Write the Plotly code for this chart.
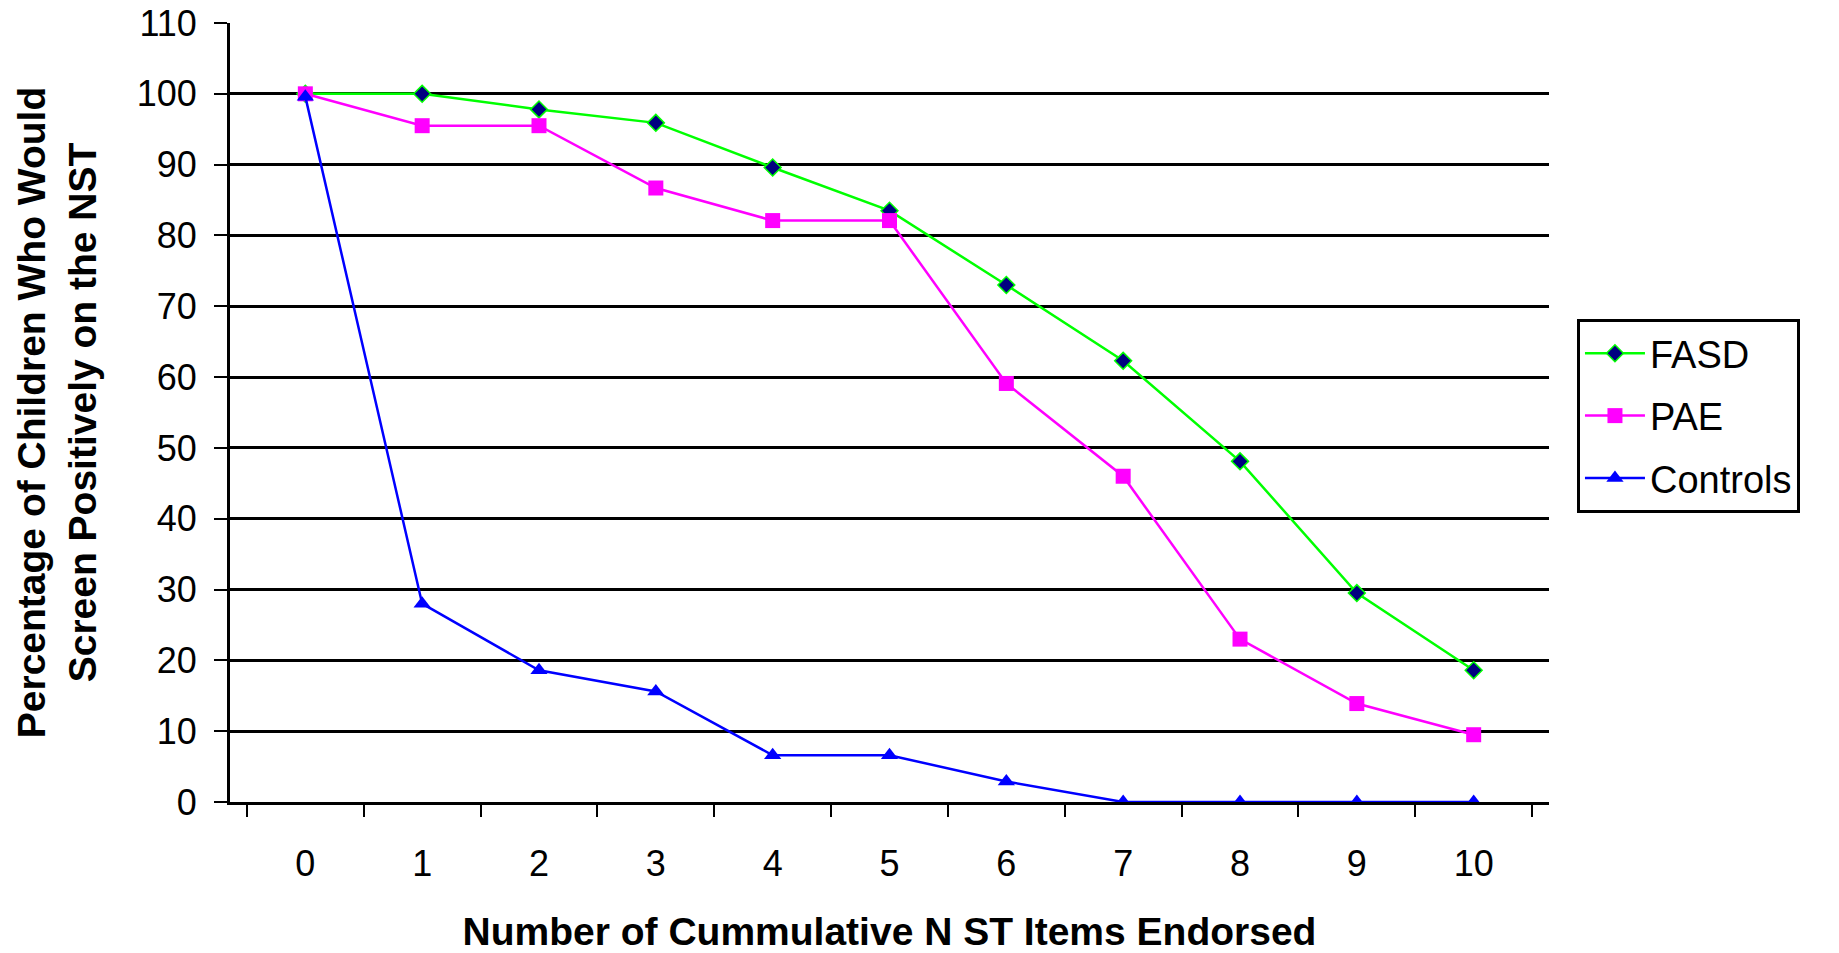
import plotly.graph_objects as go

categories = ["0", "1", "2", "3", "4", "5", "6", "7", "8", "9", "10"]
fasd = [100, 100, 97.8, 95.9, 89.6, 83.5, 73.0, 62.3, 48.1, 29.5, 18.6]
pae = [100, 95.5, 95.5, 86.7, 82.1, 82.1, 59.1, 46.0, 23.0, 13.9, 9.5]
controls = [99.6, 28.0, 18.6, 15.6, 6.6, 6.6, 2.9, 0, 0, 0, 0]
y_ticks = list(range(0, 111, 10))

FONT = "Liberation Sans, Arial, sans-serif"

fig = go.Figure()
fig.add_trace(go.Scatter(
    x=categories, y=fasd, name="FASD", mode="lines+markers", legendgroup="a",
    line=dict(color="#00FF00", width=2.5),
    marker=dict(symbol="diamond", size=13, color="#000080",
                line=dict(color="#00FF00", width=1.5)),
))
fig.add_trace(go.Scatter(
    x=categories, y=pae, name="PAE", mode="lines+markers", legendgroup="b",
    line=dict(color="#FF00FF", width=2.5),
    marker=dict(symbol="square", size=15, color="#FF00FF"),
))
fig.add_trace(go.Scatter(
    x=categories, y=controls, name="Controls", mode="lines+markers", legendgroup="c",
    line=dict(color="#0000FF", width=2.5),
    marker=dict(symbol="triangle-up", size=15, color="#0000FF"),
))

fig.update_layout(
    width=1831, height=945,
    margin=dict(l=222, r=290, t=15, b=151, autoexpand=False),
    paper_bgcolor="white", plot_bgcolor="white",
    font=dict(family=FONT, color="black"),
    showlegend=True,
    legend=dict(
        x=1.0212, xanchor="left", y=0.62, yanchor="top",
        bordercolor="black", borderwidth=3, bgcolor="white",
        font=dict(family=FONT, size=38, color="black"),
        tracegroupgap=10, itemwidth=60,
    ),
    xaxis=dict(
        type="category", tickson="boundaries", automargin=False,
        ticks="outside", ticklen=12, tickwidth=2, tickcolor="black",
        showline=True, linecolor="black", linewidth=3,
        showgrid=False, zeroline=False,
        tickfont=dict(family=FONT, size=36, color="black"),
        ticklabelstandoff=28,
        title=dict(text="<b>Number of Cummulative N ST Items Endorsed</b>",
                   font=dict(family=FONT, size=39, color="black"), standoff=43),
    ),
    yaxis=dict(
        range=[0, 110], tickvals=y_ticks, automargin=False,
        ticks="outside", ticklen=13, tickwidth=2, tickcolor="black",
        showline=True, linecolor="black", linewidth=3,
        showgrid=True, gridcolor="black", gridwidth=2.5, zeroline=False,
        tickfont=dict(family=FONT, size=36, color="black"),
        ticklabelstandoff=10, ticklabeloverflow="allow",
        title=dict(text="<b>Percentage of Children Who Would<br>Screen Positively on the NST</b>",
                   font=dict(family=FONT, size=39, color="black"), standoff=29),
    ),
    shapes=[dict(type="line", xref="paper", yref="y", x0=0.003, x1=1, y0=110, y1=110,
                 line=dict(color="white", width=4), layer="between")],
)

fig.write_html("out.html")
